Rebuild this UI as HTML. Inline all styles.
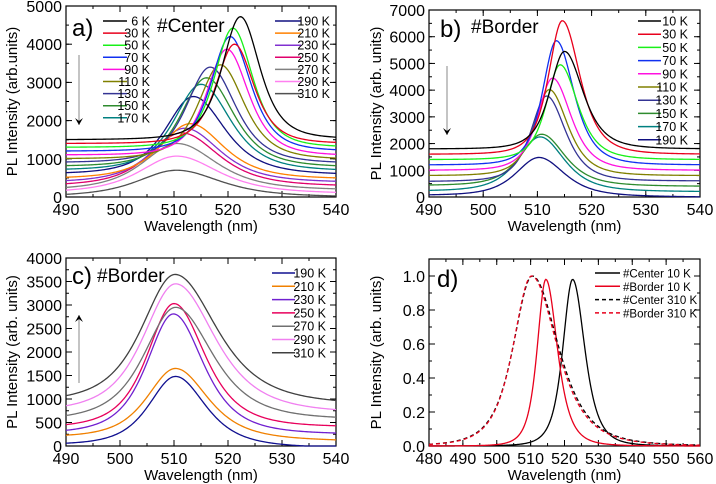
<!DOCTYPE html>
<html><head><meta charset="utf-8"><style>
html,body{margin:0;padding:0;background:#fff;}
svg{display:block;font-family:"Liberation Sans",Arial,sans-serif;}
</style></head><body>
<svg id="fig" width="716" height="484" viewBox="0 0 716 484"></svg>
<script>
// ---------- Panel a (#Center) ----------
const aTemps=["6 K","30 K","50 K","70 K","90 K","110 K","130 K","150 K","170 K","190 K","210 K","230 K","250 K","270 K","290 K","310 K"];
const aColors=["#000000","#e8001c","#18f018","#1030f0","#ff10e0","#808000","#343494","#2e8b2e","#008080","#101080","#ff8000","#8030d0","#e0006c","#808080","#ff80f0","#505050"];
const aPeakX=[522.3,521.2,520.9,520.4,519.8,518.6,516.7,516.0,515.0,513.6,513.0,512.0,511.4,510.6,510.5,510.5];
const aPeakY=[4720,4000,4420,4200,3870,3460,3400,3120,2950,2630,1920,1800,1680,1400,1070,700];
const aBaseL=[1500,1400,1300,1200,1100,1000,900,800,700,600,480,380,290,180,110,10];
const aBaseR=[1520,1400,1300,1200,1080,980,880,780,680,580,470,380,280,180,90,0];
const aHwL=[4.0,4.0,4.0,4.2,4.4,4.8,5.2,5.5,5.8,6.0,6.5,6.8,7.0,7.5,8.0,8.5];
const aHwR=[4.2,4.2,4.3,4.5,4.7,5.2,5.6,6.0,6.4,6.8,7.2,7.6,8.0,8.5,9.0,9.5];
// ---------- Panel b (#Border) ----------
const bTemps=["10 K","30 K","50 K","70 K","90 K","110 K","130 K","150 K","170 K","190 K"];
const bColors=["#000000","#e8001c","#18f018","#1030f0","#ff10e0","#808000","#343494","#2e8b2e","#008080","#101080"];
const bPeakX=[515.0,514.6,514.2,513.5,512.8,512.2,511.7,510.8,510.5,510.3];
const bPeakY=[5450,6600,4950,5850,4450,4020,3780,2350,2250,1480];
const bBaseL=[1800,1600,1400,1200,1000,800,580,430,220,60];
const bBaseR=[1800,1600,1400,1200,1000,800,600,400,200,0];
const bHwL=[3.2,3.0,3.0,3.0,3.2,3.3,3.4,4.5,4.8,5.0];
const bHwR=[4.0,3.8,3.8,3.8,4.0,4.0,4.1,5.0,5.2,5.5];
// ---------- Panel c (#Border) ----------
const cTemps=["190 K","210 K","230 K","250 K","270 K","290 K","310 K"];
const cColors=["#101090","#f08000","#7020d0","#e8005c","#707070","#f080f0","#404040"];
const cPeakX=[510.3,510.3,509.9,510.0,510.3,510.3,510.2];
const cPeakY=[1480,1650,2810,3030,2950,3450,3650];
const cBaseL=[20,180,260,380,540,720,920];
const cBaseR=[-40,110,250,400,560,700,880];
const cHwL=[5.8,6.2,5.8,5.8,6.8,7.0,7.2];
const cHwR=[6.5,7.0,6.5,6.7,8.0,8.5,9.0];
// ---------- Panel d (normalized) ----------
const dNames=["#Center 10 K","#Border 10 K","#Center 310 K","#Border 310 K"];
const dColors=["#000000","#e8001c","#000000","#e8001c"];
const dDash=["","","4,3","4,3"];
const dPeakX=[522.4,514.5,510.5,510.3];
const dPeakY=[0.98,0.98,1.0,1.0];
const dHwL=[3.4,3.0,6.6,6.4];
const dHwR=[4.2,4.0,9.0,8.8];

const NS="http://www.w3.org/2000/svg";
const svg=document.getElementById('fig');
function mk(tag,attrs,parent){const e=document.createElementNS(NS,tag);for(const k in attrs)e.setAttribute(k,attrs[k]);(parent||svg).appendChild(e);return e;}
const K=0.644; // HWHM -> shape scale for (1+u^2)^-2
function shape(x,x0,hl,hr){const s=(x<x0?hl:hr)/K;const u=(x-x0)/s;return Math.pow(1+u*u,-2);}

function axes(p){
  const g=mk('g',{});
  
  
  const xs=v=>p.L+(v-p.x0)/(p.x1-p.x0)*(p.R-p.L);
  const ys=v=>p.B-(v-p.y0)/(p.y1-p.y0)*(p.B-p.T);
  p.xs=xs;p.ys=ys;
  for(let v=p.x0;v<=p.x1+1e-9;v+=p.xmin){const X=xs(v);mk('line',{x1:X,x2:X,y1:p.B,y2:p.B-3,stroke:'#000','stroke-width':1},g);mk('line',{x1:X,x2:X,y1:p.T,y2:p.T+3,stroke:'#000','stroke-width':1},g);}
  for(let v=p.y0;v<=p.y1+1e-9;v+=p.ymin){const Y=ys(v);mk('line',{x1:p.L,x2:p.L+3,y1:Y,y2:Y,stroke:'#000','stroke-width':1},g);mk('line',{x1:p.R,x2:p.R-3,y1:Y,y2:Y,stroke:'#000','stroke-width':1},g);}
  for(let i=0;i<p.xticks.length;i++){const v=p.xticks[i];const X=xs(v);
    mk('line',{x1:X,x2:X,y1:p.B,y2:p.B-6,stroke:'#000','stroke-width':1},g);mk('line',{x1:X,x2:X,y1:p.T,y2:p.T+6,stroke:'#000','stroke-width':1},g);
    const t=mk('text',{x:X,y:p.B+18,'text-anchor':'middle','font-size':16},g);t.textContent=String(v);
    
    }
  for(let i=0;i<p.yticks.length;i++){const v=p.yticks[i];const Y=ys(v);
    mk('line',{x1:p.L,x2:p.L+6,y1:Y,y2:Y,stroke:'#000','stroke-width':1},g);mk('line',{x1:p.R,x2:p.R-6,y1:Y,y2:Y,stroke:'#000','stroke-width':1},g);
    const t=mk('text',{x:p.L-4,y:Y+6,'text-anchor':'end','font-size':16},g);t.textContent=p.ylabels[i];
    
    }
  mk('rect',{x:p.L,y:p.T,width:p.R-p.L,height:p.B-p.T,fill:'none',stroke:'#000','stroke-width':1.2},g);
  const xt=mk('text',{x:(p.L+p.R)/2,y:p.B+34,'text-anchor':'middle','font-size':15},g);xt.textContent='Wavelength (nm)';
  
  
  const cy=(p.T+p.B)/2;
  const yt=mk('text',{x:p.ytx,y:cy,'text-anchor':'middle','font-size':15,transform:`rotate(-90 ${p.ytx} ${cy})`},g);yt.textContent=p.ytitle;
  
  
}
function series(p,i,px,py,hl,hr,bl,br,col,dash,nm){
  let d='';
  for(let x=p.x0;x<=p.x1+1e-9;x+=0.25){
    const base=bl+(br-bl)*(x-p.x0)/(p.x1-p.x0);
    const b0=bl+(br-bl)*(px-p.x0)/(p.x1-p.x0);
    const v=base+(py-b0)*shape(x,px,hl,hr);
    d+=(d?'L':'M')+p.xs(x).toFixed(2)+','+Math.min(p.B,Math.max(p.T,p.ys(v))).toFixed(2);
  }
  const e=mk('path',{d:d,fill:'none',stroke:col,'stroke-width':1.3,'stroke-dasharray':dash||''});
  
  
}
function legend(x1,x2,tx,y0,dy,names,cols,dashes,anchor,fs){
  for(let i=0;i<names.length;i++){const y=y0+i*dy;
    const l=mk('line',{x1:x1,x2:x2,y1:y,y2:y,stroke:cols[i],'stroke-width':1.5,'stroke-dasharray':dashes?dashes[i]:''});
    
    
    const t=mk('text',{x:tx,y:y+4.5,'text-anchor':anchor,'font-size':fs||12.5});t.textContent=names[i];
    
    }
}
function label(x,y,s,fs,nm){const t=mk('text',{x:x,y:y,'font-size':fs});t.textContent=s;
  
  }
function arrow(x,y1,y2,nm){
  const g=mk('g',{});
  
  
  mk('line',{x1:x,x2:x,y1:y1,y2:y2,stroke:'#888','stroke-width':1},g);
  const dir=y2>y1?1:-1;
  mk('path',{d:`M${x-4},${y2-7*dir} L${x},${y2} L${x+4},${y2-7*dir} L${x},${y2-4*dir}Z`,fill:'#000'},g);
}

// Panel a
const pa={name:'panel-a',L:66,R:336,T:6,B:197,x0:490,x1:540,y0:0,y1:5000,xmin:5,ymin:500,
  xticks:[490,500,510,520,530,540],yticks:[0,1000,2000,3000,4000,5000],ylabels:["0","1000","2000","3000","4000","5000"],ytx:17,ytitle:'PL Intensity (arb.units)'};
axes(pa);
for(let i=aTemps.length-1;i>=0;i--)series(pa,i,aPeakX[i],aPeakY[i],aHwL[i],aHwR[i],aBaseL[i],aBaseR[i],aColors[i],'','center-curve-'+aTemps[i].replace(' ',''));
legend(103,127,150,21,12.1,aTemps.slice(0,9),aColors.slice(0,9),null,'end');
legend(275,301,330,21,12.1,aTemps.slice(9),aColors.slice(9),null,'end');
label(72,36,'a)',24,'panel-label-a');label(157,32,'#Center',19,'sample-label-center');
arrow(79,55,125,'trend-arrow-a');

// Panel b
const pb={name:'panel-b',L:429,R:700,T:10,B:197,x0:490,x1:540,y0:0,y1:7000,xmin:5,ymin:500,
  xticks:[490,500,510,520,530,540],yticks:[0,1000,2000,3000,4000,5000,6000,7000],ylabels:["0","1000","2000","3000","4000","5000","6000","7000"],ytx:381,ytitle:'PL Intensity (arb. units)'};
axes(pb);
for(let i=bTemps.length-1;i>=0;i--)series(pb,i,bPeakX[i],bPeakY[i],bHwL[i],bHwR[i],bBaseL[i],bBaseR[i],bColors[i],'','border-curve-'+bTemps[i].replace(' ',''));
legend(638,661,688,21,13.2,bTemps,bColors,null,'end');
label(440,37,'b)',24,'panel-label-b');label(471,33,'#Border',19,'sample-label-border');
arrow(447,66,135,'trend-arrow-b');

// Panel c
const pc={name:'panel-c',L:66,R:336,T:258,B:446,x0:490,x1:540,y0:0,y1:4000,xmin:5,ymin:250,
  xticks:[490,500,510,520,530,540],yticks:[0,500,1000,1500,2000,2500,3000,3500,4000],ylabels:["0","500","1000","1500","2000","2500","3000","3500","4000"],ytx:17,ytitle:'PL Intensity (arb. units)'};
axes(pc);
for(let i=0;i<cTemps.length;i++)series(pc,i,cPeakX[i],cPeakY[i],cHwL[i],cHwR[i],cBaseL[i],cBaseR[i],cColors[i],'','border-hot-curve-'+cTemps[i].replace(' ',''));
legend(272,295,326,273,13.3,cTemps,cColors,null,'end');
label(72,284,'c)',24,'panel-label-c');label(97,282,'#Border',19,'sample-label-border-c');
arrow(79,383,315,'trend-arrow-c');

// Panel d
const pd={name:'panel-d',L:429,R:700,T:259,B:446,x0:480,x1:560,y0:0,y1:1.1,xmin:5,ymin:0.1,
  xticks:[480,490,500,510,520,530,540,550,560],yticks:[0,0.2,0.4,0.6,0.8,1.0],ylabels:["0.0","0.2","0.4","0.6","0.8","1.0"],ytx:381,ytitle:'PL Intensity (arb. units)'};
axes(pd);
for(let i=0;i<dNames.length;i++)series(pd,i,dPeakX[i],dPeakY[i],dHwL[i],dHwR[i],0,0,dColors[i],dDash[i],'normalized-'+dNames[i].replace('#','').replace(/ /g,'-'));
legend(595,620,623,273,13.3,dNames,dColors,dDash,'start',11.5);
label(437,287,'d)',24,'panel-label-d');
</script>
</body></html>
